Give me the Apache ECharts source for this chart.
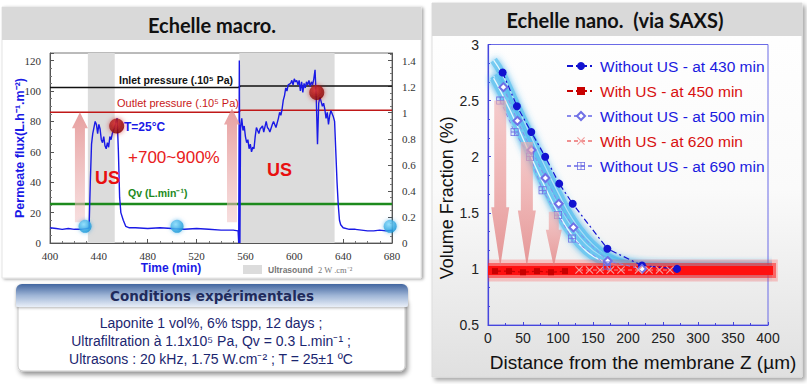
<!DOCTYPE html>
<html><head><meta charset="utf-8">
<script src="https://cdn.jsdelivr.net/npm/echarts@6/dist/echarts.min.js"></script>
<style>html,body{margin:0;padding:0;background:#fff}#c{width:807px;height:384px}</style>
</head><body><div id="c"></div>
<script>
// ---------- Left chart (macro scale) ----------
const timeTicks = [400, 440, 480, 520, 560, 600, 640, 680];
const fluxData = [[400,10],[405,9.5],[410,9],[415,9.5],[420,9],[425,9],[430,9.5],[432,10],[433,40],[434,65],[435,72],[437,80],[438,78],[439,72],[440,78],[441,75],[442,68],[443,66],[444,70],[445,64],[446,62],[447,66],[448,63],[449,70],[450,68],[451,72],[452,74],[453,76],[454,80],[455,82],[456,60],[457,30],[458,20],[460,15],[462,11],[465,10],[470,10],[480,9.5],[490,10],[500,9.5],[510,9],[520,9.5],[530,9],[540,8.5],[550,8.5],[554,8],[554.5,0],[555,120],[555.5,0],[556,75],[557,82],[558,74],[559,77],[560,70],[561,66],[562,68],[563,62],[564,65],[565,60],[566,63],[567,62],[568,70],[569,76],[570,74],[571,72],[572,75],[574,77],[575,73],[577,80],[578,76],[579,75],[580,73],[582,78],[583,80],[584,78],[585,76],[587,82],[588,86],[589,84],[590,88],[591,94],[592,97],[593,102],[594,100],[595,104],[597,105],[598,107],[599,104],[600,108],[601,106],[602,107],[603,104],[604,107],[605,100],[606,106],[607,99],[608,105],[609,102],[610,106],[611,104],[612,107],[613,103],[614,106],[615,104],[616,108],[617,114],[618,95],[619,65],[620,92],[621,96],[622,93],[623,90],[624,92],[625,88],[626,82],[627,86],[628,78],[629,84],[630,87],[631,85],[632,83],[633,80],[634,60],[635,40],[636,25],[637,15],[638,12],[640,10],[645,9],[650,9],[655,8.5],[660,8],[665,8],[670,8.5],[675,8],[680,8.5]];
const inletPressure = [[400,1.193],[554,1.193],[556,1.205],[680,1.205]];
const outletPressure = [[400,1.003],[554,1.003],[556,1.018],[680,1.018]];
const qvFlow = [[400,0.30],[680,0.30]];
const ultrasoundPeriods = [[431,453],[555,633]];
const samplePointsNoUS = [[428.7,11],[504,11],[678.5,11]];
const samplePointsUS = [[454.6,77],[618.4,99]];
const upArrows = [[424.5,13.6,86],[549,13.6,88.5]];

// ---------- Right chart (nano scale) ----------
const distTicks = [0, 50, 100, 150, 200, 250, 300, 350, 400];
const noUS430 = [[20.9,2.75],[41.3,2.45],[61.8,2.22],[81.7,2.0],[101.7,1.76],[121,1.58],[170.5,1.18],[220,1.03],[270,1.0]];
const withUS450 = [[10,0.98],[30,0.98],[50,0.97],[70,0.98],[90,0.97],[110,0.98]];
const noUS500 = [[22,2.62],[42,2.32],[62,2.06],[82,1.81],[101,1.58],[122,1.37],[171,1.07],[220,1.0]];
const withUS620 = [[130,0.99],[145,0.99],[160,0.99],[175,0.99],[190,0.99],[215,0.99],[230,0.99],[245,0.99],[260,0.99]];
const noUS690 = [[17.5,2.5],[38,2.22],[60,2.0],[78,1.7],[100,1.48],[120,1.27],[170,1.03]];
const fitA = [[8,2.86],[20,2.74],[40,2.47],[60,2.2],[80,1.93],[100,1.68],[120,1.45],[140,1.28],[160,1.16],[180,1.08],[200,1.04],[230,1.01],[260,1.0],[412,1.0]];
const fitB = [[8,2.72],[20,2.6],[40,2.35],[60,2.08],[80,1.82],[100,1.57],[120,1.37],[140,1.22],[160,1.12],[180,1.06],[200,1.03],[230,1.01],[412,1.0]];
const fitC = [[8,2.7],[20,2.56],[40,2.3],[60,2.02],[80,1.75],[100,1.5],[120,1.3],[140,1.16],[160,1.08],[180,1.04],[210,1.01],[412,1.0]];
const fitUS = [[0,0.985],[414,0.985]];
const downArrows = [[17.5,2.5,1.55,1.02,6,9],[55.5,2.13,1.52,1.02,6,9],[94,1.51,1.35,1.02,5,8]];

const chart = echarts.init(document.getElementById('c'), null, {renderer:'svg'});
const serif = 'Liberation Serif';
const sans = 'Liberation Sans';
const blueAx = '#4646dc';

function fitSeries(name, data){
  return [{
    name:name, type:'line', xAxisIndex:1, yAxisIndex:2, data:data, smooth:true, symbol:'none', clip:false, z:2,
    lineStyle:{width:8, color:'rgba(110,200,240,0.88)', shadowBlur:7, shadowColor:'rgba(60,175,235,0.95)'}
  },{
    name:name+'_core', type:'line', xAxisIndex:1, yAxisIndex:2, data:data, smooth:true, symbol:'none', clip:false, z:2,
    lineStyle:{width:1.3, color:'rgba(235,250,255,0.95)'}
  }];
}
function bandSeries(name, data, width, color){
  return {name:name, type:'line', xAxisIndex:1, yAxisIndex:2, data:data, symbol:'none', clip:false, z:4,
    lineStyle:{width:width, color:color}};
}
const xSym = 'path://M0,1 L1,0 L5,4 L9,0 L10,1 L6,5 L10,9 L9,10 L5,6 L1,10 L0,9 L4,5 Z';
const boxPlusSym = 'path://M0,0 H10 V10 H0 Z M1,1 V4.5 H4.5 V1 Z M5.5,1 V4.5 H9 V1 Z M1,5.5 V9 H4.5 V5.5 Z M5.5,5.5 V9 H9 V5.5 Z';

const option = {
  animation:false,
  grid:[
    {left:50, top:53, width:342, height:190, show:true, borderColor:'#777', borderWidth:1, backgroundColor:'transparent'},
    {left:488, top:44.5, width:280, height:280.5, show:true, borderColor:'#6a6ae6', borderWidth:1, backgroundColor:'transparent'}
  ],
  xAxis:[
    {type:'value', gridIndex:0, min:timeTicks[0], max:timeTicks[timeTicks.length-1], interval:40,
     axisLine:{lineStyle:{color:'#555'}}, axisTick:{inside:true, length:4, lineStyle:{color:'#555'}},
     minorTick:{show:true, splitNumber:4, length:2, lineStyle:{color:'#777'}}, splitLine:{show:false},
     axisLabel:{fontFamily:serif, fontSize:11, color:'#333', margin:7},
     name:'Time (min)', nameLocation:'middle', nameGap:17,
     nameTextStyle:{fontFamily:sans, fontWeight:'bold', fontSize:12, color:'#1a1ae6', padding:[0,100,0,0]}},
    {type:'value', gridIndex:1, min:distTicks[0], max:distTicks[distTicks.length-1], interval:50,
     axisLine:{lineStyle:{color:blueAx, width:1.2}}, axisTick:{inside:true, length:3, lineStyle:{color:blueAx}},
     minorTick:{show:true, splitNumber:2, length:2, lineStyle:{color:blueAx}}, splitLine:{show:false},
     axisLabel:{fontFamily:sans, fontSize:14, color:'#222', margin:6},
     name:'Distance from the membrane Z (µm)', nameLocation:'middle', nameGap:28,
     nameTextStyle:{fontFamily:sans, fontSize:19, color:'#111', padding:[0,0,0,30]}}
  ],
  yAxis:[
    {type:'value', gridIndex:0, min:0, max:125, interval:20, position:'left',
     axisLine:{show:true, lineStyle:{color:'#555'}}, axisTick:{inside:true, length:4, lineStyle:{color:'#555'}},
     minorTick:{show:true, splitNumber:4, length:2, lineStyle:{color:'#777'}}, splitLine:{show:false},
     axisLabel:{fontFamily:serif, fontSize:11, color:'#333', margin:9, showMaxLabel:false},
     name:'Permeate flux(L.h⁻¹.m⁻²)', nameLocation:'middle', nameGap:24, nameMoveOverlap:false,
     nameTextStyle:{fontFamily:sans, fontWeight:'bold', fontSize:12.5, color:'#1a1ae6'}},
    {type:'value', gridIndex:0, min:0, max:1.4583, interval:0.2, position:'right',
     axisLine:{show:true, lineStyle:{color:'#555'}}, axisTick:{inside:true, length:4, lineStyle:{color:'#555'}},
     minorTick:{show:true, splitNumber:4, length:2, lineStyle:{color:'#777'}}, splitLine:{show:false},
     axisLabel:{fontFamily:serif, fontSize:11, color:'#333', margin:10, showMaxLabel:false,
       formatter:function(v){return String(Number(v.toFixed(1)));}}},
    {type:'value', gridIndex:1, min:0.5, max:3, interval:0.5,
     axisLine:{show:true, lineStyle:{color:blueAx, width:1.2}}, axisTick:{inside:true, length:3, lineStyle:{color:blueAx}},
     minorTick:{show:true, splitNumber:3, length:2, lineStyle:{color:blueAx}}, splitLine:{show:false},
     axisLabel:{fontFamily:sans, fontSize:14, color:'#222', margin:9},
     name:'Volume Fraction (%)', nameLocation:'middle', nameGap:22,
     nameTextStyle:{fontFamily:sans, fontSize:18, color:'#111', padding:[0,26,0,0]}}
  ],
  legend:{
    left:561, top:53, orient:'vertical', itemGap:9, itemWidth:28, itemHeight:10,
    textStyle:{fontFamily:sans, fontSize:15.5},
    data:[
      {name:'Without US - at 430 min', textStyle:{color:'#1a1ae0'}},
      {name:'With US - at 450 min', textStyle:{color:'#d81010'}},
      {name:'Without US - at 500 min', textStyle:{color:'#1a1ae0'}},
      {name:'With US - at 620 min', textStyle:{color:'#d81010'}},
      {name:'Without US - at 690 min', textStyle:{color:'#1a1ae0'}}
    ]
  },
  series:[
    {name:'Ultrasound', type:'line', xAxisIndex:0, yAxisIndex:0, data:[], symbol:'none',
     markArea:{silent:true, itemStyle:{color:'#dcdcdc'},
       data:ultrasoundPeriods.map(p=>[{xAxis:p[0]},{xAxis:p[1]}])}},
    {name:'Inlet pressure', type:'line', xAxisIndex:0, yAxisIndex:1, data:inletPressure, symbol:'none', z:3,
     lineStyle:{color:'#111', width:1.5}},
    {name:'Outlet pressure', type:'line', xAxisIndex:0, yAxisIndex:1, data:outletPressure, symbol:'none', z:3,
     lineStyle:{color:'#c01818', width:1.5}},
    {name:'Qv', type:'line', xAxisIndex:0, yAxisIndex:1, data:qvFlow, symbol:'none', z:3,
     lineStyle:{color:'#1d8a1d', width:2.5}},
    {name:'Permeate flux', type:'line', xAxisIndex:0, yAxisIndex:0, data:fluxData, symbol:'none', z:4,
     lineStyle:{color:'#1a1ae6', width:1.4}},
    {name:'sampleNoUS', type:'scatter', xAxisIndex:0, yAxisIndex:0, data:samplePointsNoUS, symbolSize:13, z:6,
     itemStyle:{color:{type:'radial', x:0.4, y:0.35, r:0.7, colorStops:[{offset:0,color:'#8ee2ff'},{offset:1,color:'#0b8fd4'}]},
       shadowBlur:4, shadowColor:'rgba(0,140,220,0.6)'}},
    {name:'sampleUS', type:'scatter', xAxisIndex:0, yAxisIndex:0, data:samplePointsUS, symbolSize:15, z:6,
     itemStyle:{color:{type:'radial', x:0.4, y:0.35, r:0.7, colorStops:[{offset:0,color:'#d83030'},{offset:1,color:'#7a0000'}]},
       shadowBlur:5, shadowColor:'rgba(200,0,0,0.7)'}},

    ...fitSeries('fitA', fitA), ...fitSeries('fitB', fitB), ...fitSeries('fitC', fitC),
    bandSeries('fitUS_glow', fitUS, 22, 'rgba(255,60,60,0.25)'),
    bandSeries('fitUS_mid', fitUS, 15, 'rgba(255,30,30,0.55)'),
    bandSeries('fitUS', fitUS, 9, '#ff1010'),
    {name:'Without US - at 430 min', type:'line', xAxisIndex:1, yAxisIndex:2, data:noUS430, z:5,
     symbol:'circle', symbolSize:8, itemStyle:{color:'#1212d0'},
     lineStyle:{color:'#1212d0', width:1.2, type:[6,3,2,3]}},
    {name:'With US - at 450 min', type:'line', xAxisIndex:1, yAxisIndex:2, data:withUS450, z:5,
     symbol:'rect', symbolSize:6, itemStyle:{color:'#c80000'},
     lineStyle:{color:'#c80000', width:1.2, type:[6,3,2,3]}},
    {name:'Without US - at 500 min', type:'line', xAxisIndex:1, yAxisIndex:2, data:noUS500, z:5,
     symbol:'emptyDiamond', symbolSize:8, itemStyle:{color:'#6f6fe6', borderWidth:1},
     lineStyle:{color:'#8a8aec', width:1, type:[4,3]}},
    {name:'With US - at 620 min', type:'line', xAxisIndex:1, yAxisIndex:2, data:withUS620, z:5,
     symbol:xSym, symbolSize:8, itemStyle:{color:'#f2a0a0'},
     lineStyle:{color:'#f09090', width:1, type:[4,3]}},
    {name:'Without US - at 690 min', type:'line', xAxisIndex:1, yAxisIndex:2, data:noUS690, z:5,
     symbol:boxPlusSym, symbolSize:8, itemStyle:{color:'#7070e4'},
     lineStyle:{color:'#8a8aec', width:1, type:[4,3]}}
  ]
};
chart.setOption(option);

// ---------- annotations (positions derived from data coordinates) ----------
function px(grid, x, y){ return chart.convertToPixel({gridIndex:grid}, [x, y]); }
const g = [];
// panel backgrounds
g.push({type:'rect', z:-100, shape:{x:2, y:7, width:419, height:271},
  style:{fill:'#ffffff', stroke:'#e4e4e4', lineWidth:1, shadowBlur:3, shadowOffsetX:2, shadowOffsetY:1, shadowColor:'rgba(0,0,0,0.35)'}});
g.push({type:'rect', z:-99, shape:{x:2, y:7, width:419, height:33}, style:{fill:'#d9d9d9'}});
g.push({type:'text', z:10, style:{text:'Echelle macro.', x:212, y:25, align:'center', verticalAlign:'middle',
  font:'bold 20px Lato', fill:'#111'}});
g.push({type:'rect', z:-100, shape:{x:432, y:3, width:370, height:374},
  style:{fill:{type:'linear', x:0, y:0, x2:0, y2:1, colorStops:[{offset:0,color:'#ffffff'},{offset:0.5,color:'#fafafa'},{offset:1,color:'#e0e0e0'}]},
    stroke:'#dddddd', lineWidth:1, shadowBlur:4, shadowOffsetX:3, shadowOffsetY:3, shadowColor:'rgba(0,0,0,0.35)'}});
g.push({type:'rect', z:-99, shape:{x:432, y:3, width:370, height:33}, style:{fill:'#d9d9d9'}});
g.push({type:'text', z:10, style:{text:'Echelle nano.  (via SAXS)', x:615, y:20, align:'center', verticalAlign:'middle',
  font:'bold 20px Lato', fill:'#111'}});

// ultrasound legend
g.push({type:'rect', z:10, shape:{x:243, y:265, width:19, height:9}, style:{fill:'#dcdcdc'}});
g.push({type:'text', z:10, style:{text:'Ultrasound', x:268, y:270, verticalAlign:'middle', font:'bold 8.5px "Liberation Sans"', fill:'#777'}});
g.push({type:'text', z:10, style:{text:'2 W .cm⁻²', x:318, y:270, verticalAlign:'middle', font:'8.5px "Liberation Serif"', fill:'#777'}});

// left up arrows
upArrows.forEach(a=>{
  const b = px(0, a[0], a[1]), t = px(0, a[0], a[2]);
  const cx = b[0], hb = t[1] + 16;
  g.push({type:'polygon', z:5, shape:{points:[[cx-5,b[1]],[cx+5,b[1]],[cx+5,hb],[cx+8,hb],[cx,t[1]],[cx-8,hb],[cx-5,hb]]},
    style:{fill:{type:'linear', x:0, y:0, x2:0, y2:1, colorStops:[{offset:0,color:'rgba(225,135,135,0.8)'},{offset:1,color:'rgba(240,195,195,0.55)'}]}}});
});
// left text annotations
g.push({type:'text', z:12, style:{text:'Inlet pressure (.10⁵ Pa)', x:119, y:80, verticalAlign:'middle', font:'bold 10.5px "Liberation Sans"', fill:'#111'}});
g.push({type:'text', z:12, style:{text:'Outlet pressure (.10⁵ Pa)', x:117, y:103, verticalAlign:'middle', font:'11px "Liberation Sans"', fill:'#c81818'}});
g.push({type:'text', z:12, style:{text:'T=25°C', x:124, y:127, verticalAlign:'middle', font:'bold 12px "Liberation Sans"', fill:'#1a1ae6'}});
g.push({type:'text', z:12, style:{text:'+700~900%', x:128, y:157, verticalAlign:'middle', font:'17px "Liberation Sans"', fill:'#e82020'}});
g.push({type:'text', z:12, style:{text:'US', x:95, y:178, verticalAlign:'middle', font:'bold 18px "Liberation Sans"', fill:'#e81010'}});
g.push({type:'text', z:12, style:{text:'US', x:267, y:170, verticalAlign:'middle', font:'bold 18px "Liberation Sans"', fill:'#e81010'}});
g.push({type:'text', z:12, style:{text:'Qv (L.min⁻¹)', x:128, y:193, verticalAlign:'middle', font:'bold 10.5px "Liberation Sans"', fill:'#1d8a1d'}});

// right down arrows
downArrows.forEach(a=>{
  const t = px(1, a[0], a[1]), h = px(1, a[0], a[2]), tip = px(1, a[0], a[3]);
  const cx = t[0], sw = a[4], hw = a[5];
  g.push({type:'polygon', z:8, shape:{points:[[cx-sw,t[1]],[cx+sw,t[1]],[cx+sw,h[1]],[cx+hw,h[1]],[cx,tip[1]],[cx-hw,h[1]],[cx-sw,h[1]]]},
    style:{fill:{type:'linear', x:0, y:0, x2:0, y2:1, colorStops:[{offset:0,color:'rgba(240,170,170,0.6)'},{offset:1,color:'rgba(225,120,120,0.75)'}]}}});
});

// conditions box
g.push({type:'rect', z:-50, shape:{x:18, y:300, width:387, height:71, r:[0,0,5,5]},
  style:{fill:'#ffffff', stroke:'#c8c8c8', lineWidth:1, shadowBlur:5, shadowOffsetX:2, shadowOffsetY:3, shadowColor:'rgba(0,0,0,0.45)'}});
g.push({type:'rect', z:-49, shape:{x:16, y:284, width:392, height:23, r:[6,6,2,2]},
  style:{fill:{type:'linear', x:0, y:0, x2:0, y2:1, colorStops:[{offset:0,color:'#41659f'},{offset:0.5,color:'#9fb5d6'},{offset:1,color:'#e9eff8'}]},
    shadowBlur:3, shadowOffsetY:1, shadowColor:'rgba(0,0,0,0.3)'}});
g.push({type:'text', z:10, style:{text:'Conditions expérimentales', x:212, y:296, align:'center', verticalAlign:'middle',
  font:'bold 13.5px "DejaVu Sans"', fill:'#1f2b5c'}});
g.push({type:'text', z:10, style:{text:'Laponite 1 vol%, 6% tspp, 12 days ;', x:211, y:323, align:'center', verticalAlign:'middle',
  font:'14px "Liberation Sans"', fill:'#1b2670'}});
g.push({type:'text', z:10, style:{text:'Ultrafiltration à 1.1x10⁵ Pa, Qv = 0.3 L.min⁻¹ ;', x:211, y:341, align:'center', verticalAlign:'middle',
  font:'14px "Liberation Sans"', fill:'#1b2670'}});
g.push({type:'text', z:10, style:{text:'Ultrasons : 20 kHz, 1.75 W.cm⁻² ; T = 25±1 ºC', x:211, y:359, align:'center', verticalAlign:'middle',
  font:'14px "Liberation Sans"', fill:'#1b2670'}});

chart.setOption({graphic:g});
</script>
</body></html>
